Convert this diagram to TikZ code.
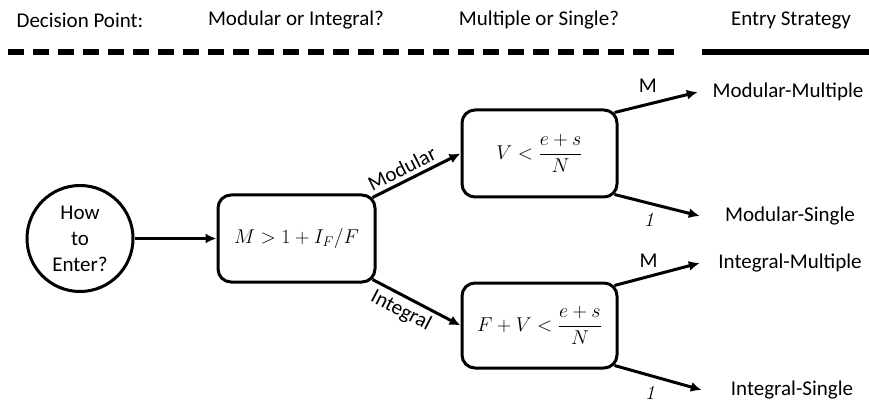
\RequirePackage{fix-cm}
\documentclass[tikz,border=0pt]{standalone}
\usepackage[no-math]{fontspec}
\setmainfont{Carlito}
\usetikzlibrary{arrows.meta}
\begin{document}
\begin{tikzpicture}[x=1pt,y=-1pt,
  txt/.style={font=\fontsize{21}{26}\selectfont, inner sep=0pt},
  box/.style={draw, line width=3pt, rounded corners=13pt, font=\fontsize{20}{24}\selectfont, inner sep=0pt},
  arr/.style={line width=3pt, -{Latex[length=11pt,width=10pt]}},
  outc/.style={txt, minimum width=180pt},
  lab/.style={font=\fontsize{21}{26}\selectfont, inner sep=4pt},
  mlab/.style={font=\fontsize{20}{24}\selectfont, inner sep=0pt},
  rule/.style={line width=5.5pt},
]
\useasboundingbox (0,0) rectangle (869,403);
% headers
\node[txt] (h1) at (80,20) {Decision Point:};
\node[txt] (h2) at (296,20) {Modular or Integral?};
\node[txt] (h3) at (539,20) {Multiple or Single?};
\node[txt] (h4) at (791,20) {Entry Strategy};
\draw[rule, dash pattern=on 16pt off 9pt] (8,52) -- (676,52);
\draw[rule] (702,52) -- (869,52);
% nodes
\node[draw, circle, line width=3pt, minimum size=106pt, txt, align=center] (c) at (80,238.5) {How\\to\\Enter?};
\node[box, minimum width=157pt, minimum height=87pt] (b1) at (296.5,238.5) {$M>1+I_F/F$};
\node[box, minimum width=155pt, minimum height=87pt] (b2) at (539.5,153.5) {$V<\displaystyle\frac{e+s}{N}$};
\node[box, minimum width=155pt, minimum height=85pt] (b3) at (539.5,325.5) {$F+V<\displaystyle\frac{e+s}{N}$};
\node[outc] (mm) at (788,92) {Modular-Multiple};
\node[outc] (ms) at (790,216) {Modular-Single};
\node[outc] (im) at (790,263) {Integral-Multiple};
\node[outc] (is) at (792,390) {Integral-Single};
% connectors
\draw[arr] (c) -- (b1);
\draw[arr] ([shift={(-4,4)}]b1.north east) -- node[lab, sloped, above, pos=0.4] {Modular} (b2.west);
\draw[arr] ([shift={(-4,-4)}]b1.south east) -- node[lab, sloped, below, pos=0.4] {Integral} (b3.west);
\draw[arr] ([shift={(-4,4)}]b2.north east) -- node[txt, pos=0.4, above=10pt] {M} (mm.west);
\draw[arr] ([shift={(-4,-4)}]b2.south east) -- node[mlab, pos=0.42, below=9pt] {$\mathit{1}$} (ms.west);
\draw[arr] ([shift={(-4,4)}]b3.north east) -- node[txt, pos=0.4, above=8pt] {M} (im.west);
\draw[arr] ([shift={(-4,-4)}]b3.south east) -- node[mlab, pos=0.42, below=9pt] {$\mathit{1}$} (is.west);
\end{tikzpicture}
\end{document}
